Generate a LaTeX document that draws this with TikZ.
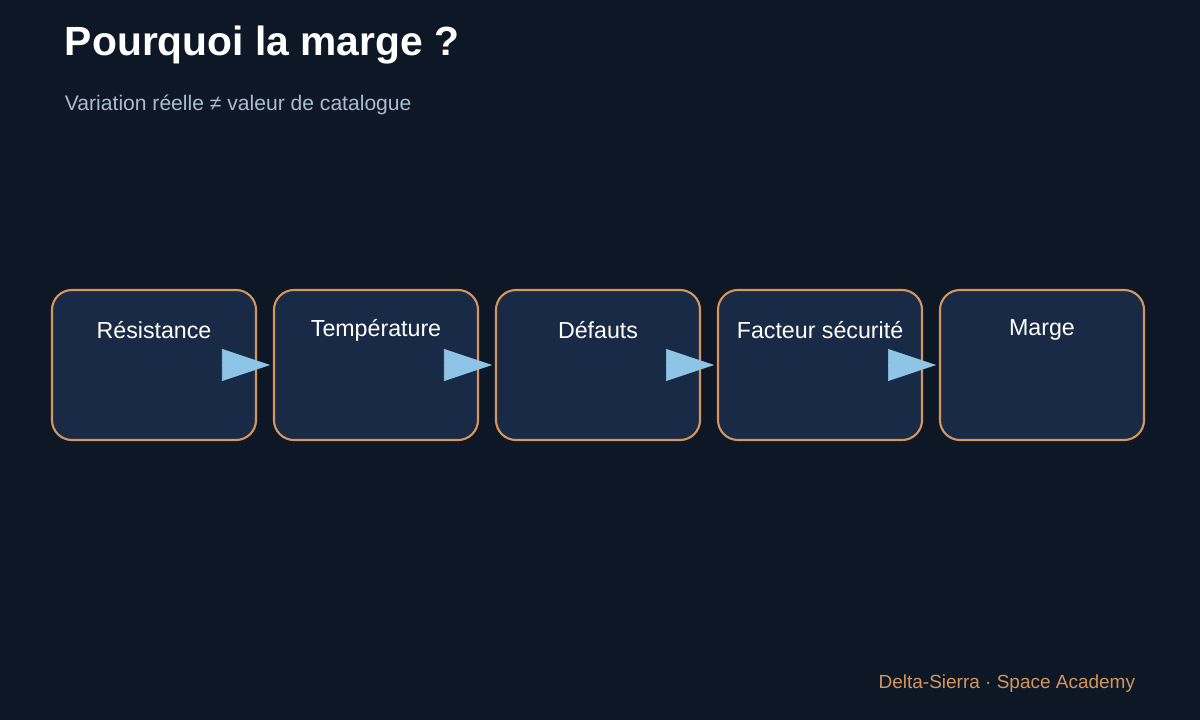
\documentclass[tikz,border=0pt]{standalone}
\usepackage{fontspec}
\setmainfont{Liberation Sans}
\usetikzlibrary{arrows.meta,positioning}
\definecolor{bgc}{HTML}{0E1726}
\definecolor{boxc}{HTML}{182A45}
\definecolor{edgec}{HTML}{D4955E}
\definecolor{arrc}{HTML}{8EC5E6}
\definecolor{subc}{HTML}{A9BCD0}
\tikzset{
  stage/.style={draw=edgec, line width=1.5pt, fill=boxc, rounded corners=0.5cm,
    minimum width=5.1cm, minimum height=3.75cm, inner sep=0pt},
  stagelabel/.style={text=white, font=\fontsize{16.5}{18}\selectfont},
  flow/.style={arrc, line width=0.4pt, -{Triangle[length=1.2cm, width=0.8cm]}}
}
\begin{document}
\begin{tikzpicture}[x=0.025cm, y=-0.025cm]
		
		% background
		\fill[bgc] (0,0) rectangle (1200,720);
		\useasboundingbox (0,0) rectangle (1200,720);
		
		% title
		\node[anchor=west, text=white, font=\bfseries\fontsize{29}{34}\selectfont] (title) at (60, 45) {Pourquoi la marge ?};
		\node[anchor=west, text=subc, font=\fontsize{15}{18}\selectfont] (subtitle) at (60, 105) {Variation réelle ≠ valeur de catalogue};
		
		% stages
		\node[stage] (s1) at (154, 365) {};
		\node[stage] (s2) at (376, 365) {};
		\node[stage] (s3) at (598, 365) {};
		\node[stage] (s4) at (820, 365) {};
		\node[stage] (s5) at (1042, 365) {};
		
		% labels
		\node[stagelabel] (l1) at (154, 330) {Résistance};
		\node[stagelabel] (l2) at (376, 330) {Température};
		\node[stagelabel] (l3) at (598, 330) {Défauts};
		\node[stagelabel] (l4) at (820, 330) {Facteur sécurité};
		\node[stagelabel] (l5) at (1042, 330) {Marge};
		
		% arrows
		\coordinate (t1) at (270, 365);
		\coordinate (t2) at (492, 365);
		\coordinate (t3) at (714, 365);
		\coordinate (t4) at (936, 365);
		\draw[flow] (s1.east) -- (t1);
		\draw[flow] (s2.east) -- (t2);
		\draw[flow] (s3.east) -- (t3);
		\draw[flow] (s4.east) -- (t4);
		
		% footer
		\node[anchor=east, text=edgec, font=\fontsize{13.5}{16}\selectfont] (footer) at (1140, 684) {Delta-Sierra · Space Academy};
		
\end{tikzpicture}
\end{document}
